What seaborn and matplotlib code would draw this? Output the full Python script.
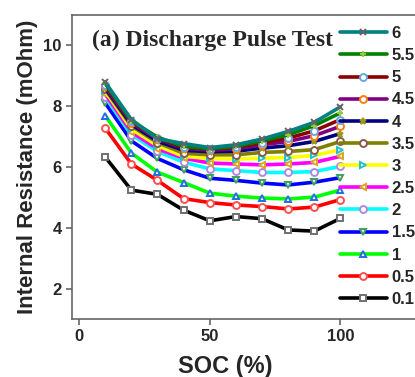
import numpy as np
import pandas as pd
import matplotlib
matplotlib.use("Agg")
import matplotlib.pyplot as plt
import seaborn as sns

soc = [10, 20, 30, 40, 50, 60, 70, 80, 90, 100]
currents = ["6", "5.5", "5", "4.5", "4", "3.5", "3", "2.5", "2", "1.5", "1", "0.5", "0.1"]
r_6   = [8.79, 7.56, 6.93, 6.77, 6.64, 6.73, 6.92, 7.17, 7.47, 7.98]
r_5_5 = [8.75, 7.52, 6.98, 6.68, 6.60, 6.68, 6.86, 7.06, 7.36, 7.78]
r_5   = [8.70, 7.50, 6.95, 6.65, 6.58, 6.65, 6.79, 6.95, 7.19, 7.56]
r_4_5 = [8.65, 7.45, 6.92, 6.62, 6.55, 6.60, 6.73, 6.84, 7.03, 7.34]
r_4   = [8.60, 7.40, 6.85, 6.55, 6.50, 6.52, 6.62, 6.70, 6.84, 7.10]
r_3_5 = [8.55, 7.35, 6.80, 6.45, 6.40, 6.40, 6.48, 6.51, 6.57, 6.84]
r_3   = [8.50, 7.25, 6.70, 6.35, 6.28, 6.26, 6.29, 6.31, 6.38, 6.57]
r_2_5 = [8.40, 7.15, 6.60, 6.29, 6.13, 6.10, 6.07, 6.10, 6.15, 6.35]
r_2   = [8.31, 7.06, 6.51, 6.16, 5.94, 5.88, 5.82, 5.82, 5.85, 6.02]
r_1_5 = [8.11, 6.86, 6.28, 5.91, 5.63, 5.56, 5.47, 5.41, 5.50, 5.65]
r_1   = [7.69, 6.46, 5.83, 5.49, 5.14, 5.04, 4.98, 4.95, 5.01, 5.24]
r_0_5 = [7.28, 6.10, 5.56, 4.96, 4.83, 4.75, 4.70, 4.62, 4.68, 4.93]
r_0_1 = [6.33, 5.24, 5.10, 4.58, 4.23, 4.37, 4.30, 3.93, 3.89, 4.31]
series = [r_6, r_5_5, r_5, r_4_5, r_4, r_3_5, r_3, r_2_5, r_2, r_1_5, r_1, r_0_5, r_0_1]

line_colors = ["#008080", "#008000", "#8B0000", "#800080", "#000080", "#808000", "#FFFF00",
               "#FF00FF", "#00FFFF", "#0000FF", "#00FF00", "#FF0000", "#000000"]
markers = ["x", "+", "o", "o", "*", "o", ">", "<", "o", "v", "^", "o", "s"]
mcolors = ["#666666", "#9ACD32", "#6CA6E0", "#FF7F0E", "#9A9A20", "#8B5A4A", "#20C0D0",
           "#DAA520", "#B088E0", "#3CA060", "#2070E0", "#FF5050", "#707070"]

df = pd.DataFrame({
    "SOC": np.tile(soc, len(currents)),
    "R": np.concatenate(series),
    "I": np.repeat(currents, len(soc)),
})

sns.set_style("ticks")
plt.rcParams["font.family"] = ["Liberation Sans", "DejaVu Sans"]
plt.rcParams["font.weight"] = "bold"

fig = plt.figure(figsize=(4.15, 3.77), dpi=100)
ax = fig.add_axes([72/415, 58/377, 373/415, 304/377])

handles = {}
for i in range(len(currents) - 1, -1, -1):
    sub = df[df["I"] == currents[i]]
    sns.lineplot(data=sub, x="SOC", y="R", ax=ax, color=line_colors[i], lw=2.6,
                 marker=markers[i], markersize=5, markeredgecolor=mcolors[i],
                 markerfacecolor="white" if markers[i] not in ("x", "+") else mcolors[i],
                 markeredgewidth=1.4, legend=False)
    handles[currents[i]] = ax.lines[-1]

ax.set_xlim(-2.7, 140)
ax.set_ylim(1.0, 11.0)
ax.set_xticks([0, 50, 100])
ax.set_yticks([2, 4, 6, 8, 10])
for sp in ax.spines.values():
    sp.set_color("#666666")
    sp.set_linewidth(1.2)
ax.tick_params(axis="both", labelsize=12, color="#666666", length=4, width=1.2)
for lbl in ax.get_xticklabels() + ax.get_yticklabels():
    lbl.set_fontweight("bold")
ax.set_xlabel("SOC (%)", fontsize=17, fontweight="bold")
ax.xaxis.set_label_coords((225 - 72) / 373, -(367 - 319) / 304)
ax.xaxis.label.set_va("center")
ax.set_ylabel("Internal Resistance (mOhm)", fontsize=16, fontweight="bold", labelpad=4)

ax.text(92/415, 1 - 40/377, "(a) Discharge Pulse Test", transform=fig.transFigure,
        fontsize=17, fontweight="bold", family=["Liberation Serif", "DejaVu Serif"],
        va="center", ha="left")

leg = fig.legend([handles[c] for c in currents], currents, loc="upper left",
                 bbox_to_anchor=(340/415, 1 - 26/377), frameon=False,
                 prop={"size": 12, "weight": "bold"}, handlelength=2.8,
                 handletextpad=0.3, labelspacing=0.43, borderaxespad=0, borderpad=0)

fig.savefig("out.png", dpi=100)
